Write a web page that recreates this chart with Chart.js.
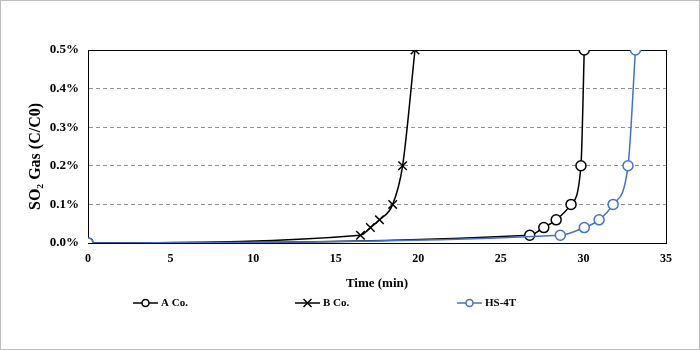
<!DOCTYPE html>
<html>
<head>
<meta charset="utf-8">
<script src="https://cdn.jsdelivr.net/npm/chart.js@4/dist/chart.umd.min.js"></script>
<style>
html,body{margin:0;padding:0;background:#fff;}
#wrap{position:relative;width:700px;height:350px;}
</style>
</head>
<body>
<div id="wrap"><canvas id="c" width="700" height="350"></canvas></div>
<script>
// Data (time in min, SO2 C/C0 in %)
const aCoTime = [0, 26.75, 27.6, 28.35, 29.25, 29.85, 30.05];
const aCoValue = [0, 0.02, 0.04, 0.06, 0.1, 0.2, 0.5];
const bCoTime = [0, 16.5, 17.1, 17.65, 18.45, 19.05, 19.8];
const bCoValue = [0, 0.02, 0.04, 0.06, 0.1, 0.2, 0.5];
const hsTime = [0, 28.6, 30.05, 30.95, 31.8, 32.7, 33.15];
const hsValue = [0, 0.02, 0.04, 0.06, 0.1, 0.2, 0.5];
const seriesNames = ['A Co.', 'B Co.', 'HS-4T'];
const xTicks = [0, 5, 10, 15, 20, 25, 30, 35];
const yTicks = [0, 0.1, 0.2, 0.3, 0.4, 0.5];

const FONT = '"Liberation Serif", "Times New Roman", serif';
const BLUE = '#4472C4';

function pts(xs, ys){ return xs.map((x,i)=>({x:x, y:ys[i]})); }

const frameAndBox = {
  id: 'frameAndBox',
  beforeDatasetsDraw(chart){
    const {ctx, chartArea:a} = chart;
    ctx.save();
    ctx.strokeStyle = '#000';
    ctx.lineWidth = 1;
    ctx.strokeRect(Math.round(a.left)+0.5, Math.round(a.top)+0.5, Math.round(a.right-a.left), Math.round(a.bottom-a.top));
    ctx.restore();
  },
  afterDraw(chart){
    const ctx = chart.ctx;
    ctx.save();
    ctx.strokeStyle = '#bdbdbd';
    ctx.lineWidth = 1;
    ctx.strokeRect(0.5, 0.5, chart.width-1, chart.height-1);
    ctx.restore();
  }
};

const customLegend = {
  id: 'customLegend',
  afterDraw(chart){
    const ctx = chart.ctx;
    const starts = [133, 295, 457];
    const y = 303;
    ctx.save();
    chart.data.datasets.forEach((ds, i) => {
      const x0 = starts[i];
      ctx.strokeStyle = ds.borderColor;
      ctx.lineWidth = 1.5;
      ctx.beginPath(); ctx.moveTo(x0, y); ctx.lineTo(x0+25, y); ctx.stroke();
      const cx = x0 + 12.5;
      if (ds.pointStyle === 'circle') {
        ctx.fillStyle = '#fff';
        ctx.beginPath(); ctx.arc(cx, y, 3.5, 0, Math.PI*2); ctx.fill(); ctx.stroke();
      } else {
        ctx.beginPath();
        ctx.moveTo(cx-4, y-4); ctx.lineTo(cx+4, y+4);
        ctx.moveTo(cx+4, y-4); ctx.lineTo(cx-4, y+4);
        ctx.stroke();
      }
      ctx.fillStyle = '#000';
      ctx.font = 'bold 11px ' + FONT;
      ctx.textBaseline = 'middle';
      ctx.textAlign = 'left';
      ctx.fillText(seriesNames[i], x0 + 28, y + 0.5);
    });
    ctx.restore();
  }
};

new Chart(document.getElementById('c'), {
  type: 'scatter',
  data: {
    datasets: [
      {
        label: seriesNames[0], data: pts(aCoTime, aCoValue), showLine: true,
        borderColor: '#000', backgroundColor: '#fff', borderWidth: 1.5,
        pointStyle: 'circle', pointRadius: 5, pointBorderWidth: 1.5, pointBackgroundColor: '#fff',
        cubicInterpolationMode: 'monotone', order: 1
      },
      {
        label: seriesNames[1], data: pts(bCoTime, bCoValue), showLine: true,
        borderColor: '#000', backgroundColor: '#000', borderWidth: 1.5,
        pointStyle: 'crossRot', pointRadius: 6, pointBorderWidth: 1.5,
        cubicInterpolationMode: 'monotone', order: 2
      },
      {
        label: seriesNames[2], data: pts(hsTime, hsValue), showLine: true,
        borderColor: BLUE, backgroundColor: '#fff', borderWidth: 1.5,
        pointStyle: 'circle', pointRadius: 5, pointBorderWidth: 1.5, pointBackgroundColor: '#fff',
        cubicInterpolationMode: 'monotone', order: 0
      }
    ]
  },
  options: {
    responsive: false,
    animation: false,
    devicePixelRatio: 1,
    layout: { padding: { top: 50, right: 34, left: 18, bottom: 58 } },
    plugins: {
      legend: { display: false },
      tooltip: { enabled: false }
    },
    scales: {
      x: {
        type: 'linear', min: 0, max: 35,
        afterBuildTicks: (s) => { s.ticks = xTicks.map(v => ({value: v})); },
        ticks: { color: '#000', padding: 9, font: { family: FONT, size: 12, weight: 'bold' } },
        grid: { display: false, drawTicks: false },
        border: { display: true, color: '#000', width: 1 },
        title: { display: true, text: 'Time (min)', color: '#000', padding: { top: 0, bottom: 1 },
                 font: { family: FONT, size: 13, weight: 'bold' } }
      },
      y: {
        type: 'linear', min: 0, max: 0.5,
        afterBuildTicks: (s) => { s.ticks = yTicks.map(v => ({value: v})); },
        afterFit: (s) => { s.width = 70; },
        ticks: { color: '#000', padding: 9, font: { family: FONT, size: 13, weight: 'bold' },
                 callback: (v) => Number(v).toFixed(1) + '%' },
        grid: {
          drawTicks: false, lineWidth: 1,
          color: (c) => (c.tick && c.tick.value > 0.001 && c.tick.value < 0.499) ? '#939393' : 'rgba(0,0,0,0)'
        },
        border: { display: true, color: '#000', width: 1, dash: [4, 3] },
        title: { display: true, text: 'SO₂ Gas (C/C0)     ', color: '#000', padding: { top: 8, bottom: 0 },
                 font: { family: FONT, size: 16, weight: 'bold' } }
      }
    }
  },
  plugins: [frameAndBox, customLegend]
});
</script>
</body>
</html>
